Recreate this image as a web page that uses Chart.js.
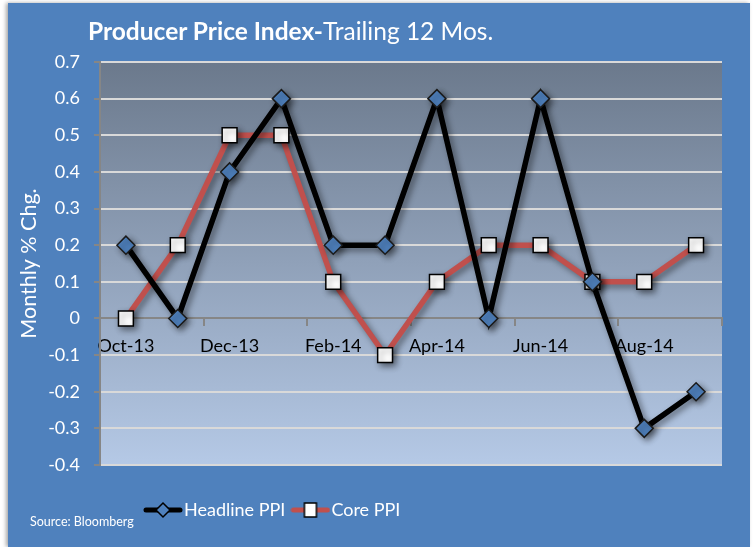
<!DOCTYPE html>
<html>
<head>
<meta charset="utf-8">
<script src="https://cdn.jsdelivr.net/npm/chart.js@4.4.1/dist/chart.umd.min.js"></script>
<style>
  html, body { margin: 0; padding: 0; background: #ffffff; }
  body { width: 756px; height: 547px; position: relative; overflow: hidden; font-family: Lato, "Open Sans", sans-serif; }
  #frame { position: absolute; left: 8px; top: 3px; width: 742px; height: 544px; background: #4f81bd; box-shadow: -2px 0 4px rgba(0,0,0,0.35); }
  #title { position: absolute; left: 88px; top: 16px; color: #fff; font-size: 24.5px; line-height: 30px; white-space: nowrap; }
  #title b { font-weight: 700; }
  #source { position: absolute; left: 30px; top: 514px; color: #fff; font-size: 12.5px; }
  canvas { position: absolute; left: 0; top: 0; }
</style>
</head>
<body>
<div id="frame"></div>
<canvas id="ppi" width="756" height="547"></canvas>
<div id="title"><b>Producer Price Index-</b>Trailing 12 Mos.</div>
<div id="source">Source: Bloomberg</div>
<script>
const months = ['Oct-13', 'Nov-13', 'Dec-13', 'Jan-14', 'Feb-14', 'Mar-14', 'Apr-14', 'May-14', 'Jun-14', 'Jul-14', 'Aug-14', 'Sep-14'];
const headlinePPI = [0.2, 0.0, 0.4, 0.6, 0.2, 0.2, 0.6, 0.0, 0.6, 0.1, -0.3, -0.2];
const corePPI = [0.0, 0.2, 0.5, 0.5, 0.1, -0.1, 0.1, 0.2, 0.2, 0.1, 0.1, 0.2];

const FONT = 'Lato, "Open Sans", sans-serif';

// little line+marker pictures for the legend
function legendSymbol(lineColor, marker) {
    const c = document.createElement('canvas');
    c.width = 40; c.height = 18;
    const g = c.getContext('2d');
    g.strokeStyle = lineColor;
    g.lineWidth = 5;
    g.lineCap = 'round';
    g.beginPath(); g.moveTo(3, 9); g.lineTo(37, 9); g.stroke();
    g.lineWidth = 1.5;
    g.strokeStyle = '#000';
    if (marker == 'diamond') {
        g.fillStyle = '#4f81bd';
        g.beginPath(); g.moveTo(20, 2); g.lineTo(27, 9); g.lineTo(20, 16); g.lineTo(13, 9); g.closePath();
    } else {
        g.fillStyle = '#fff';
        g.beginPath(); g.rect(14, 2, 12, 14);
    }
    g.fill(); g.stroke();
    return c;
}
const legendIcons = [legendSymbol('#000', 'diamond'), legendSymbol('#c0504d', 'square')];

const plotBackground = {
    id: 'plotBackground',
    beforeDraw(chart) {
        const {ctx, chartArea: a} = chart;
        const grad = ctx.createLinearGradient(0, a.top, 0, a.bottom);
        grad.addColorStop(0, '#6b798c');
        grad.addColorStop(1, '#b5c9e6');
        ctx.save();
        ctx.fillStyle = grad;
        ctx.fillRect(a.left, a.top, a.right - a.left, a.bottom - a.top);
        ctx.restore();
    },
    beforeDatasetsDraw(chart) {
        const ctx = chart.ctx;
        ctx.save();
        ctx.shadowColor = 'rgba(0,0,0,0.45)';
        ctx.shadowBlur = 6;
        ctx.shadowOffsetX = 3;
        ctx.shadowOffsetY = 3;
    },
    afterDatasetsDraw(chart) {
        chart.ctx.restore();
    },
    afterLayout(chart) {
        // legend sits left of centre, as in the original
        const lg = chart.legend;
        lg.left = 138;
        lg.top = 488;
        lg.bottom = 547;
        lg.height = lg.bottom - lg.top;
    }
};

new Chart(document.getElementById('ppi'), {
    type: 'line',
    data: {
        labels: months,
        datasets: [
            {
                label: 'Headline PPI',
                data: headlinePPI,
                borderColor: '#000',
                borderWidth: 5.5,
                tension: 0,
                pointStyle: 'rectRot',
                pointRadius: 9,
                pointBackgroundColor: '#4f81bd',
                pointBorderColor: '#1a1a1a',
                pointBorderWidth: 1.5
            },
            {
                label: 'Core PPI',
                data: corePPI,
                borderColor: '#c0504d',
                borderWidth: 5.5,
                tension: 0,
                pointStyle: 'rect',
                pointRadius: 10.5,
                pointBackgroundColor: '#fff',
                pointBorderColor: '#000',
                pointBorderWidth: 1.5
            }
        ]
    },
    options: {
        responsive: false,
        animation: false,
        devicePixelRatio: 1,
        layout: { padding: { left: 8, right: 34, top: 62, bottom: 41 } },
        plugins: {
            title: { display: false },
            tooltip: { enabled: false },
            legend: {
                position: 'bottom',
                align: 'start',
                labels: {
                    color: '#fff',
                    font: { family: FONT, size: 18 },
                    usePointStyle: true,
                    pointStyleWidth: 24,
                    padding: 13,
                    generateLabels(chart) {
                        const items = Chart.defaults.plugins.legend.labels.generateLabels(chart);
                        items.forEach((it, i) => { it.pointStyle = legendIcons[i]; });
                        return items;
                    }
                }
            }
        },
        scales: {
            x: {
                position: { y: 0 },
                offset: true,
                border: { color: '#868686', width: 2 },
                grid: {
                    offset: true,
                    drawOnChartArea: false,
                    drawTicks: true,
                    tickLength: 7,
                    color: (c) => (c.index === undefined || c.index % 2 === 0) ? '#868686' : 'rgba(0,0,0,0)',
                    lineWidth: 2
                },
                ticks: {
                    autoSkip: false,
                    maxRotation: 0,
                    padding: 10,
                    color: '#000',
                    font: { family: FONT, size: 18 },
                    callback: function (v, i) { return i % 2 === 0 ? months[i] : ''; }
                }
            },
            y: {
                min: -0.4,
                max: 0.7,
                afterFit(scale) { scale.width = 92; },
                border: { color: '#868686', width: 2 },
                grid: {
                    color: '#d9d9d9',
                    lineWidth: 2,
                    tickColor: '#868686',
                    tickLength: 6
                },
                ticks: {
                    stepSize: 0.1,
                    padding: 14,
                    color: '#fff',
                    font: { family: FONT, size: 18 },
                    callback: (v) => Math.round(v * 10) / 10
                },
                title: {
                    display: true,
                    text: 'Monthly % Chg.',
                    color: '#fff',
                    font: { family: FONT, size: 21.5 },
                    padding: { top: 8, bottom: 0 }
                }
            }
        }
    },
    plugins: [plotBackground]
});
</script>
</body>
</html>
